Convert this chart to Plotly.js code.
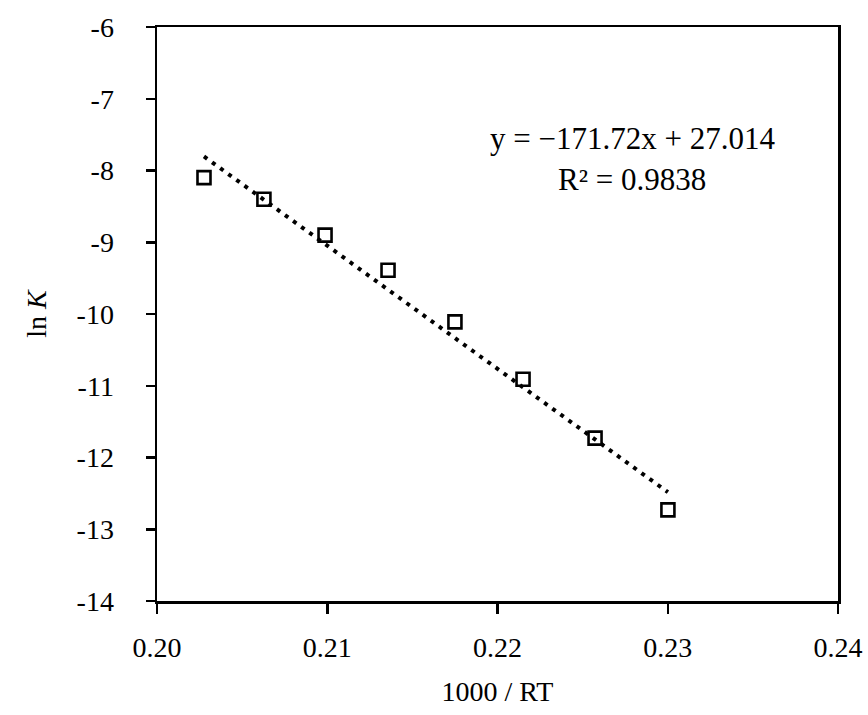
<!DOCTYPE html>
<html>
<head>
<meta charset="utf-8">
<script src="https://cdn.plot.ly/plotly-3.0.1.min.js"></script>
<style>html,body{margin:0;padding:0;background:#fff;}#chart{width:868px;height:715px;}</style>
</head>
<body>
<div id="chart"></div>
<script>
// Data
const invRT = [0.20276, 0.20628, 0.20987, 0.21357, 0.21750, 0.22150, 0.22573, 0.23001];
const lnK = [-8.10, -8.40, -8.90, -9.39, -10.11, -10.91, -11.73, -12.73];
const slope = -171.72;
const intercept = 27.014;
const r2 = 0.9838;
const xTicks = [0.20, 0.21, 0.22, 0.23, 0.24];
const xTickLabels = ["0.20", "0.21", "0.22", "0.23", "0.24"];
const yTicks = [-14, -13, -12, -11, -10, -9, -8, -7, -6];
const yTickLabels = ["-14", "-13", "-12", "-11", "-10", "-9", "-8", "-7", "-6"];

const trendX = [invRT[0], invRT[invRT.length - 1]];
const trendY = trendX.map(x => slope * x + intercept);

const font = "Liberation Serif";

const traces = [
  {
    x: trendX, y: trendY, type: 'scatter', mode: 'lines',
    line: {color: '#000', width: 4, dash: '4px,6px'},
    hoverinfo: 'skip', showlegend: false
  },
  {
    x: invRT, y: lnK, type: 'scatter', mode: 'markers',
    marker: {symbol: 'square-open', size: 13, color: '#000', line: {width: 2.6, color: '#000'}},
    showlegend: false
  }
];

const layout = {
  width: 868, height: 715,
  margin: {l: 157, r: 30, t: 27, b: 114},
  paper_bgcolor: '#fff', plot_bgcolor: '#fff',
  font: {family: font, color: '#000', size: 28},
  xaxis: {
    range: [0.20, 0.24], tickvals: xTicks, ticktext: xTickLabels,
    showgrid: false, zeroline: false,
    showline: true, linecolor: '#000', linewidth: 2.5, mirror: true,
    ticks: 'outside', ticklen: 10, tickwidth: 2.5, tickcolor: '#000',
    ticklabelstandoff: 10,
    tickfont: {family: font, size: 28, color: '#000'},
    title: {text: '1000 / RT', font: {family: font, size: 28, color: '#000'}, standoff: 20}
  },
  yaxis: {
    range: [-14, -6], tickvals: yTicks, ticktext: yTickLabels,
    showgrid: false, zeroline: false,
    showline: true, linecolor: '#000', linewidth: 2.5, mirror: true,
    ticks: 'outside', ticklen: 9, tickwidth: 2.5, tickcolor: '#000',
    ticklabelstandoff: 26,
    tickfont: {family: font, size: 28, color: '#000'},
    title: {text: 'ln <i>K</i>', font: {family: font, size: 28, color: '#000'}, standoff: 22}
  },
  annotations: [
    {
      x: 0.2279, y: -7.56, xref: 'x', yref: 'y', showarrow: false,
      text: 'y = \u2212' + Math.abs(slope).toFixed(2) + 'x + ' + intercept.toFixed(3),
      font: {family: font, size: 31, color: '#000'}
    },
    {
      x: 0.2279, y: -8.13, xref: 'x', yref: 'y', showarrow: false,
      text: 'R\u00B2 = ' + r2.toFixed(4),
      font: {family: font, size: 31, color: '#000'}
    }
  ]
};

Plotly.newPlot('chart', traces, layout, {displayModeBar: false, staticPlot: true});
</script>
</body>
</html>
